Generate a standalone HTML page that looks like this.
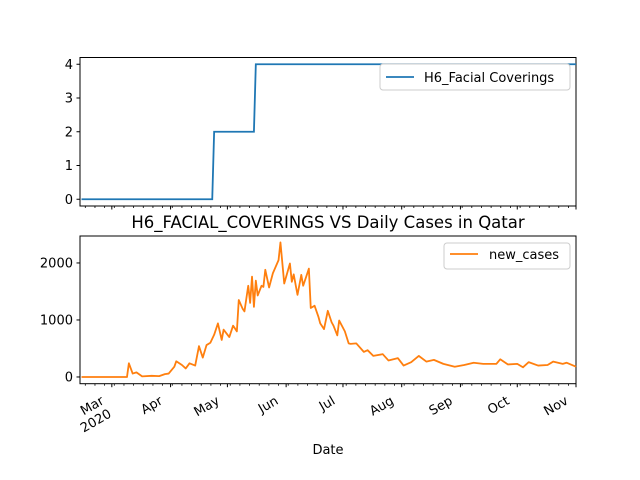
<!DOCTYPE html>
<html><head><meta charset="utf-8"><style>
body{margin:0;background:#fff}
svg{display:block;font-family:"DejaVu Sans","Liberation Sans",sans-serif}
</style></head><body>
<svg id="chart" width="640" height="480" xmlns="http://www.w3.org/2000/svg"></svg>
<script>
// days relative to 2020-03-01
const caseDays=[-16,8,9,11,13,16,21,25,28,30,33,34,37,39,41,44,46,48,50,52,54,56,58,59,62,64,66,67,69,70,72,73,74,75,76,77,79,80,81,83,85,88,89,91,94,95,96,98,100,101,104,105,107,109,110,112,114,116,117,119,120,123,125,126,129,133,135,138,143,146,151,154,158,162,166,170,175,181,186,191,196,203,205,209,214,217,220,225,230,233,238,240,245];
const caseVals=[0,0,240,60,80,10,20,15,50,60,180,275,210,150,240,200,540,340,560,600,740,940,650,830,700,900,800,1350,1200,1150,1600,1300,1760,1230,1690,1430,1600,1580,1880,1570,1820,2050,2360,1640,1990,1670,1800,1440,1790,1600,1900,1210,1250,1060,940,840,1160,960,900,730,990,800,590,580,590,440,470,370,400,290,330,200,260,370,270,300,230,180,210,250,230,230,310,220,230,170,260,200,210,270,230,250,180];
const covDays=[-16,53,54,75,76,245];
const covVals=[0,0,2,2,4,4];
const monthDays=[0,31,61,92,122,153,184,214,245];
const monthLabels=["Mar\n2020","Apr","May","Jun","Jul","Aug","Sep","Oct","Nov"];
const topTicks=[0,1,2,3,4];
const botTicks=[0,1000,2000];

const NS="http://www.w3.org/2000/svg";
const svg=document.getElementById('chart');
const X0=80,X1=576,D0=-16.8,D1=245;
const xs=d=>X0+(d-D0)/(D1-D0)*(X1-X0);
const yTop=v=>206-(v+0.2)/4.4*148.5;
const yBot=v=>383.7-(v+118)/2591*147.7;
function el(tag,attrs,parent){const e=document.createElementNS(NS,tag);for(const k in attrs)e.setAttribute(k,attrs[k]);(parent||svg).appendChild(e);return e;}

const topFrame=el('rect',{x:X0,y:57.5,width:X1-X0,height:148.5,fill:'none',stroke:'#000','stroke-width':1});


const botFrame=el('rect',{x:X0,y:236,width:X1-X0,height:147.7,fill:'none',stroke:'#000','stroke-width':1});



const covPts=covDays.map((d,i)=>xs(d)+','+yTop(covVals[i])).join(' ');
const covLine=el('polyline',{points:covPts,fill:'none',stroke:'#1f77b4','stroke-width':1.8});


const casePts=caseDays.map((d,i)=>xs(d)+','+yBot(caseVals[i])).join(' ');
const caseLine=el('polyline',{points:casePts,fill:'none',stroke:'#ff7f0e','stroke-width':1.8,'stroke-linejoin':'round'});



topTicks.forEach(v=>{const y=yTop(v);
 el('line',{x1:X0-3.5,x2:X0,y1:y,y2:y,stroke:'#000'});
 const t=el('text',{x:X0-7,y:y+4.5,'text-anchor':'end','font-size':13});t.textContent=v;
 
 });
botTicks.forEach(v=>{const y=yBot(v);
 el('line',{x1:X0-3.5,x2:X0,y1:y,y2:y,stroke:'#000'});
 const t=el('text',{x:X0-7,y:y+4.5,'text-anchor':'end','font-size':13});t.textContent=v;
 
 });

[206,383.7].forEach(yb=>{
 for(let m=0;m<monthDays.length;m++){
  const x=xs(monthDays[m]);el('line',{x1:x,x2:x,y1:yb,y2:yb+3.5,stroke:'#000'});
 }
 for(let d=D0+2.8;d<D1;d+=5.1){const x=xs(d);el('line',{x1:x,x2:x,y1:yb,y2:yb+2,stroke:'#000','stroke-width':0.8});}
});
monthDays.forEach((d,i)=>{const x=xs(d);const lines=monthLabels[i].split('\n');
 const g=el('g',{transform:`translate(${x-10},${398}) rotate(-30)`});
 lines.forEach((s,j)=>{const t=el('text',{x:0,y:6+j*15,'text-anchor':'end','font-size':13},g);t.textContent=s;});
 
 
});

const title=el('text',{x:328,y:228,'text-anchor':'middle','font-size':16.5});title.textContent='H6_FACIAL_COVERINGS VS Daily Cases in Qatar';


const xl=el('text',{x:328,y:454,'text-anchor':'middle','font-size':13});xl.textContent='Date';



const lg1=el('g',{});


el('rect',{x:380,y:64,width:190,height:26,rx:3,fill:'#fff',stroke:'#ccc'},lg1);
el('line',{x1:386,x2:414,y1:77,y2:77,stroke:'#1f77b4','stroke-width':1.8},lg1);
const t1=el('text',{x:424,y:82,'font-size':13},lg1);t1.textContent='H6_Facial Coverings';
const lg2=el('g',{});


el('rect',{x:444,y:243,width:126,height:26,rx:3,fill:'#fff',stroke:'#ccc'},lg2);
el('line',{x1:450,x2:478,y1:254,y2:254,stroke:'#ff7f0e','stroke-width':1.8},lg2);
const t2=el('text',{x:489,y:259,'font-size':13},lg2);t2.textContent='new_cases';
</script>
</body></html>
